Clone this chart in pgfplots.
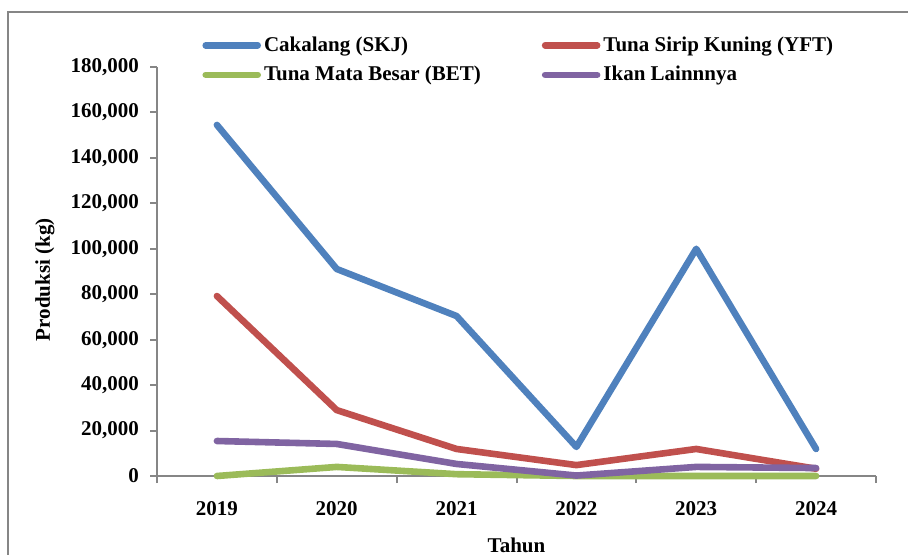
\documentclass[border=0pt]{standalone}
\usepackage{pgfplots}
\pgfplotsset{compat=1.18}
\usepackage{fontspec}
\setmainfont{Liberation Serif}
\definecolor{cSKJ}{HTML}{4F81BD}
\definecolor{cYFT}{HTML}{C0504D}
\definecolor{cBET}{HTML}{9BBB59}
\definecolor{cOTH}{HTML}{8064A2}
\definecolor{axgray}{HTML}{868686}
\newcommand{\cf}{\fontsize{10.5}{12.6}\selectfont\bfseries}
\begin{document}
\begin{tikzpicture}
\draw[line width=1pt, color=axgray] (4pt,-6pt) rectangle (470pt,-290pt);
\begin{axis}[
  at={(78.5pt,-238pt)}, anchor=south west,
  scale only axis, width=359.5pt, height=204.5pt,
  xmin=-0.5, xmax=5.5, ymin=0, ymax=180000,
  axis lines=left, axis line style={-, axgray, line width=1pt},
  tick align=outside, major tick length=3.5pt,
  tick style={axgray, line width=1pt},
  xtick={-0.5,0.5,1.5,2.5,3.5,4.5,5.5},
  xticklabels={2019,2020,2021,2022,2023,2024,{}},
  xticklabel style={xshift=29.95pt, yshift=-5.5pt, font=\cf},
  ytick={0,20000,40000,60000,80000,100000,120000,140000,160000,180000},
  scaled y ticks=false,
  yticklabel style={xshift=-2pt, font=\cf, /pgf/number format/.cd, fixed, 1000 sep={,}, assume math mode=true},
  xlabel={Tahun}, ylabel={Produksi (kg)},
  label style={font=\cf},
  xlabel style={at={(axis description cs:0.5,-0.169)}, anchor=center},
  ylabel style={at={(axis description cs:-0.156,0.48)}, anchor=center},
  legend image code/.code={\draw[#1, line cap=round] (0pt,0pt) -- (26pt,0pt);},
  legend columns=2,
  legend cell align=left,
  legend style={draw=none, fill=none, at={(0.0626,1.083)}, anchor=north west,
    font=\cf, inner sep=0pt, row sep=3pt,
    nodes={inner sep=1.5pt},
    /tikz/every even column/.append style={column sep=29pt}},
  every axis plot/.append style={line width=3.3pt, line cap=round, line join=round, mark=none},
  clip=false,
]
\addplot[cSKJ] coordinates {(0,154500) (1,91100) (2,70400) (3,12800) (4,100000) (5,11900)};
\addlegendentry{Cakalang (SKJ)}
\addplot[cYFT] coordinates {(0,79200) (1,29000) (2,11900) (3,4800) (4,11900) (5,3200)};
\addlegendentry{Tuna Sirip Kuning (YFT)}
\addplot[cBET] coordinates {(0,0) (1,4000) (2,800) (3,0) (4,0) (5,0)};
\addlegendentry{Tuna Mata Besar (BET)}
\addplot[cOTH] coordinates {(0,15400) (1,14100) (2,5300) (3,200) (4,4000) (5,3500)};
\addlegendentry{Ikan Lainnnya}
\end{axis}
\pgfresetboundingbox
\path[use as bounding box] (0pt,0pt) rectangle (454pt,-277.5pt);
\end{tikzpicture}
\end{document}
